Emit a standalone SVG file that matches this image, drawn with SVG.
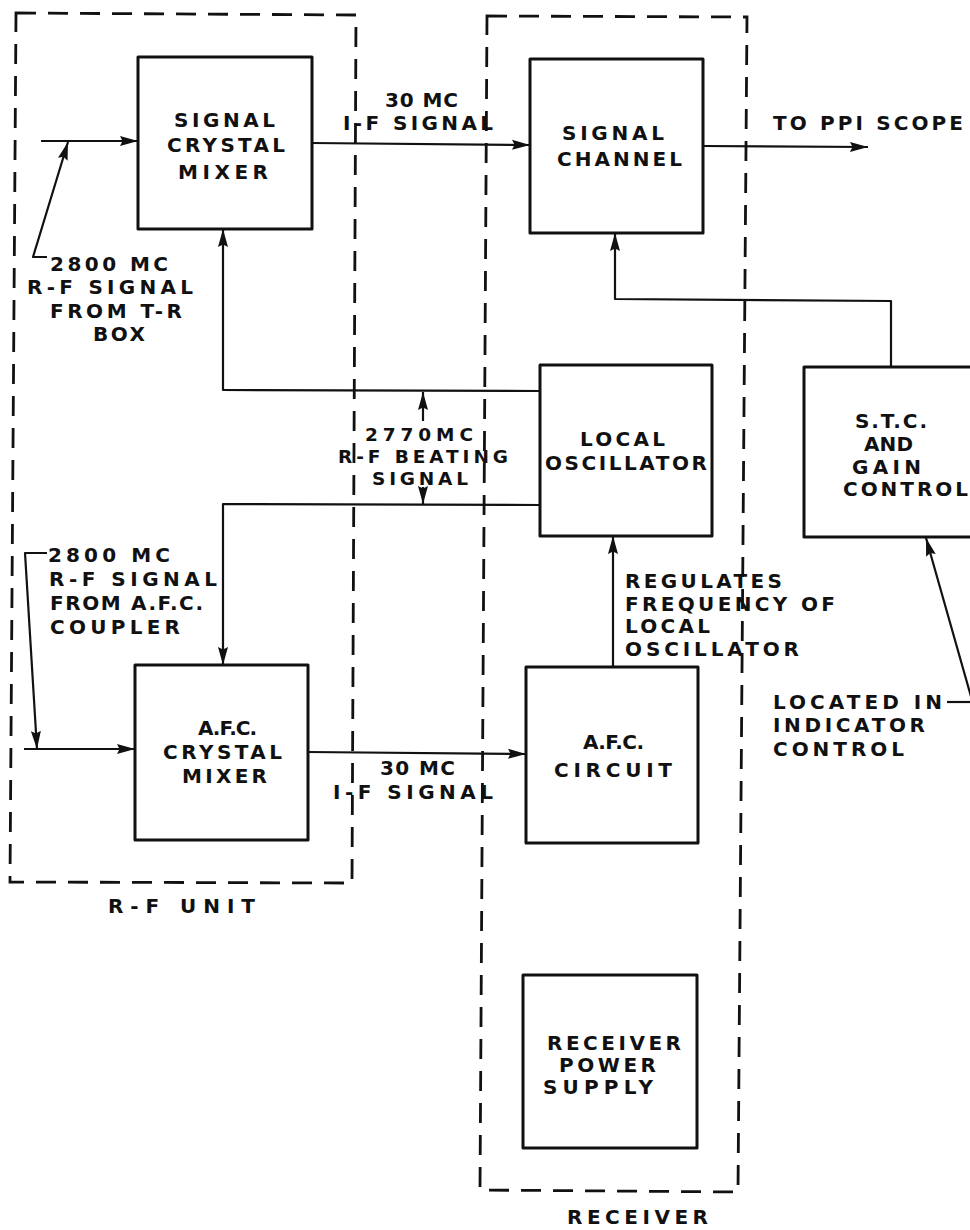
<svg xmlns="http://www.w3.org/2000/svg" width="970" height="1230" viewBox="0 0 970 1230">
<defs>
<style>
.box{fill:none;stroke:#111;stroke-width:3;stroke-linejoin:round}
.unit{fill:none;stroke:#111;stroke-width:2.8;stroke-dasharray:20 12}
.ln{fill:none;stroke:#111;stroke-width:2.2;stroke-linejoin:round}
.arr{marker-end:url(#ah)}
text{font-family:"DejaVu Sans","Liberation Sans",Arial,sans-serif;font-weight:bold;font-size:20px;fill:#111}
.sm{font-size:18.5px}
</style>
<marker id="ah" markerUnits="userSpaceOnUse" markerWidth="19" markerHeight="12" refX="18" refY="6" orient="auto">
<path d="M0,1 L18,6 L0,11 L2.5,6 Z" fill="#111"/>
</marker>
</defs>
<rect width="970" height="1230" fill="#fff"/>

<g id="rf-unit">
<path class="unit" d="M16,13 L356,15 L352,883 L10,882 Z"/>
<text x="108" y="913" textLength="147" lengthAdjust="spacing">R-F UNIT</text>
</g>
<g id="receiver">
<path class="unit" d="M487,16 L747,17 L738,1192 L480,1190 Z"/>
<text x="567" y="1224" textLength="141" lengthAdjust="spacing">RECEIVER</text>
</g>

<g id="signal-crystal-mixer">
<rect class="box" x="138" y="57" width="174" height="172"/>
<text x="174" y="127" textLength="101" lengthAdjust="spacing">SIGNAL</text>
<text x="167" y="152" textLength="118" lengthAdjust="spacing">CRYSTAL</text>
<text x="178" y="179" textLength="90" lengthAdjust="spacing">MIXER</text>
</g>
<g id="signal-channel">
<rect class="box" x="530" y="59" width="173" height="174"/>
<text x="562" y="140" textLength="102" lengthAdjust="spacing">SIGNAL</text>
<text x="557" y="166" textLength="125" lengthAdjust="spacing">CHANNEL</text>
</g>
<g id="local-oscillator">
<rect class="box" x="540" y="365" width="172" height="171"/>
<text x="580" y="446" textLength="85" lengthAdjust="spacing">LOCAL</text>
<text x="545" y="470" textLength="162" lengthAdjust="spacing">OSCILLATOR</text>
</g>
<g id="stc-gain-control">
<rect class="box" x="804" y="367" width="190" height="170"/>
<text x="855" y="428" textLength="72" lengthAdjust="spacing">S.T.C.</text>
<text x="864" y="451" textLength="49" lengthAdjust="spacing">AND</text>
<text x="852" y="474" textLength="69" lengthAdjust="spacing">GAIN</text>
<text x="843" y="496" textLength="125" lengthAdjust="spacing">CONTROL</text>
</g>
<g id="afc-crystal-mixer">
<rect class="box" x="135" y="665" width="173" height="175"/>
<text x="198" y="735" textLength="59" lengthAdjust="spacing">A.F.C.</text>
<text x="163" y="759" textLength="119" lengthAdjust="spacing">CRYSTAL</text>
<text x="182" y="783" textLength="85" lengthAdjust="spacing">MIXER</text>
</g>
<g id="afc-circuit">
<rect class="box" x="526" y="667" width="172" height="176"/>
<text x="583" y="749" textLength="61" lengthAdjust="spacing">A.F.C.</text>
<text x="554" y="777" textLength="118" lengthAdjust="spacing">CIRCUIT</text>
</g>
<g id="receiver-power-supply">
<rect class="box" x="523" y="975" width="174" height="173"/>
<text x="547" y="1050" textLength="134" lengthAdjust="spacing">RECEIVER</text>
<text x="559" y="1072" textLength="97" lengthAdjust="spacing">POWER</text>
<text x="543" y="1094" textLength="110" lengthAdjust="spacing">SUPPLY</text>
</g>

<g id="connectors">
<line class="ln arr" x1="41" y1="141" x2="138" y2="141"/>
<polyline class="ln arr" points="47,257 33,257 68,142"/>
<line class="ln arr" x1="312" y1="143" x2="530" y2="145"/>
<line class="ln arr" x1="703" y1="146" x2="868" y2="147"/>
<polyline class="ln arr" points="891,367 891,301 615,299 615,233"/>
<polyline class="ln arr" points="540,391 223,390 223,229"/>
<polyline class="ln arr" points="540,505 223,504 223,665"/>
<line class="ln arr" x1="423" y1="421" x2="423" y2="392"/>
<line class="ln arr" x1="423" y1="487" x2="423" y2="504"/>
<polyline class="ln arr" points="47,553 25,553 37,749"/>
<line class="ln arr" x1="24" y1="749" x2="135" y2="749"/>
<line class="ln arr" x1="308" y1="752" x2="526" y2="754"/>
<line class="ln arr" x1="613" y1="667" x2="613" y2="536"/>
<line class="ln" x1="947" y1="702" x2="970" y2="702"/>
<line class="ln arr" x1="972" y1="700" x2="926" y2="538"/>
</g>

<g id="labels">
<text x="385" y="107" textLength="73" lengthAdjust="spacing">30 MC</text>
<text x="343" y="130" textLength="150" lengthAdjust="spacing">I-F SIGNAL</text>
<text x="773" y="130" textLength="190" lengthAdjust="spacing">TO PPI SCOPE</text>
<text x="50" y="271" textLength="118" lengthAdjust="spacing">2800 MC</text>
<text x="27" y="294" textLength="166" lengthAdjust="spacing">R-F SIGNAL</text>
<text x="50" y="318" textLength="132" lengthAdjust="spacing">FROM T-R</text>
<text x="93" y="341" textLength="52" lengthAdjust="spacing">BOX</text>
<text class="sm" x="365" y="441" textLength="108" lengthAdjust="spacing">2770MC</text>
<text class="sm" x="338" y="463" textLength="170" lengthAdjust="spacing">R-F BEATING</text>
<text class="sm" x="372" y="485" textLength="96" lengthAdjust="spacing">SIGNAL</text>
<text x="48" y="562" textLength="122" lengthAdjust="spacing">2800 MC</text>
<text x="49" y="586" textLength="168" lengthAdjust="spacing">R-F SIGNAL</text>
<text x="50" y="610" textLength="153" lengthAdjust="spacing">FROM A.F.C.</text>
<text x="50" y="634" textLength="130" lengthAdjust="spacing">COUPLER</text>
<text x="625" y="588" textLength="157" lengthAdjust="spacing">REGULATES</text>
<text x="625" y="611" textLength="210" lengthAdjust="spacing">FREQUENCY OF</text>
<text x="625" y="633" textLength="85" lengthAdjust="spacing">LOCAL</text>
<text x="625" y="656" textLength="174" lengthAdjust="spacing">OSCILLATOR</text>
<text x="773" y="709" textLength="169" lengthAdjust="spacing">LOCATED IN</text>
<text x="773" y="732" textLength="152" lengthAdjust="spacing">INDICATOR</text>
<text x="773" y="756" textLength="131" lengthAdjust="spacing">CONTROL</text>
<text x="380" y="775" textLength="75" lengthAdjust="spacing">30 MC</text>
<text x="333" y="799" textLength="160" lengthAdjust="spacing">I-F SIGNAL</text>
</g>
</svg>
